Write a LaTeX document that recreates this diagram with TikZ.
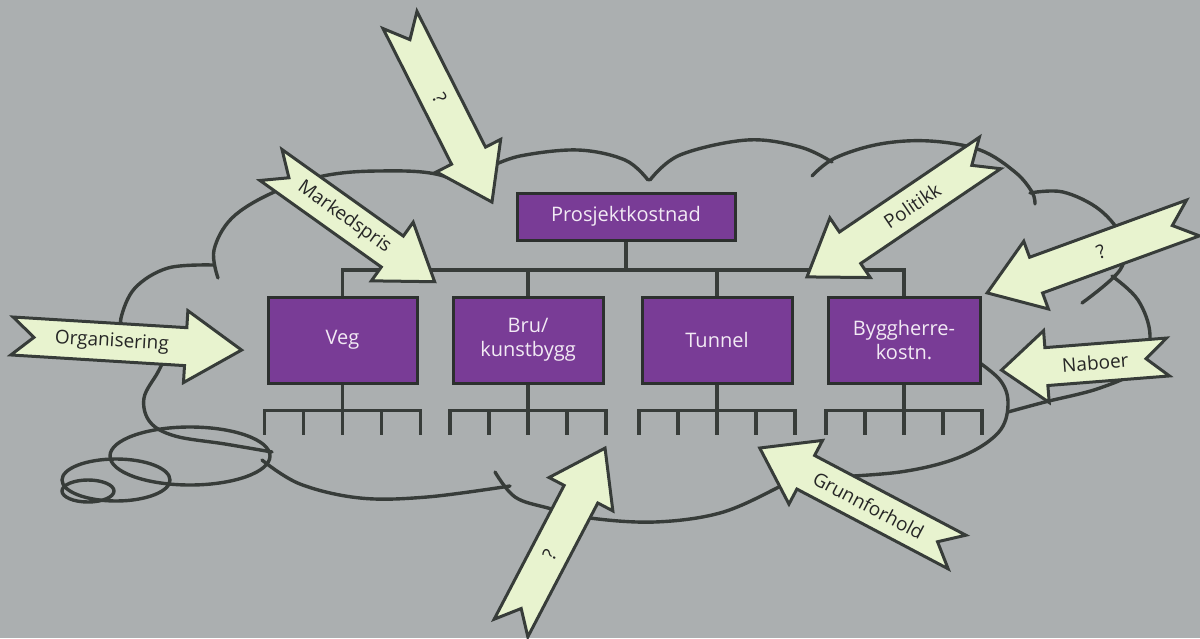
\documentclass[tikz,border=0pt]{standalone}
\usepackage{fontspec}
\setmainfont{Open Sans}
\definecolor{paper}{RGB}{171,175,176}
\definecolor{ink}{RGB}{55,60,57}
\definecolor{plum}{RGB}{121,60,150}
\definecolor{plumtext}{RGB}{242,234,244}
\definecolor{pale}{RGB}{232,243,207}

% block arrow with a notched tail: name, tail point, angle, length, head length, label position, label angle, label
\newcommand\inarrow[8]{%
  \begin{scope}[shift={#2}, rotate=#3]
    \pgfmathsetmacro\hb{#4-#5}
    \draw[blk] (0,19) -- (\hb,19) -- (\hb,36) -- (#4,0) -- (\hb,-36) -- (\hb,-19) -- (0,-19) -- (22,0) -- cycle;
    \node[lbl, rotate=#7] (#1) at (#6,0) {#8};
  \end{scope}}

% five-branch comb under a cost box
\newcommand\subcomb[1]{%
  \draw[tree] (#1.south) -- ++(0,50);
  \draw[tree] (#1.south) ++(-78,50) -- ++(0,-24) -- ++(156,0) -- ++(0,24);
  \foreach \dx in {-39,39} \draw[tree] (#1.south) ++(\dx,26) -- ++(0,24);}

\begin{document}
\begin{tikzpicture}[x=1pt,y=-1pt,
  cloud/.style={draw=ink, line width=3.4pt, line cap=round, line join=round},
  tree/.style={draw=ink, line width=3.4pt, line join=miter},
  box/.style={draw=ink!80!black, line width=3pt, fill=plum, text=plumtext,
    font=\fontsize{20}{24}\selectfont, align=center, inner sep=0pt},
  blk/.style={draw=ink, line width=3pt, fill=pale, line join=miter},
  lbl/.style={text=black!85, font=\fontsize{19}{22}\selectfont, inner sep=0pt}]

\useasboundingbox (0,0) rectangle (1200,638);
\fill[paper] (0,0) rectangle (1200,638);

% cloud outline, lobe by lobe
\draw[cloud] plot[smooth, tension=0.6] coordinates {(213,265) (168,268) (135,288) (121,318) (124,332)};
\draw[cloud] plot[smooth, tension=0.6] coordinates {(168,352) (158,372) (144,398) (150,422) (175,436) (225,444) (272,452)};
\draw[cloud] plot[smooth, tension=0.6] coordinates {(218,278) (214,250) (232,218) (272,193) (323,176) (378,171) (440,175) (492,200)};
\draw[cloud] plot[smooth, tension=0.6] coordinates {(488,168) (520,156) (578,150) (625,160) (648,180)};
\draw[cloud] plot[smooth, tension=0.6] coordinates {(650,180) (680,155) (747,140) (800,147) (832,162)};
\draw[cloud] plot[smooth, tension=0.6] coordinates {(812,176) (835,158) (880,144) (930,141) (980,150) (1015,172) (1032,192) (1035,204)};
\draw[cloud] plot[smooth, tension=0.6] coordinates {(1030,193) (1063,192) (1100,210) (1123,240) (1120,270) (1082,303)};
\draw[cloud] plot[smooth, tension=0.6] coordinates {(1112,276) (1138,300) (1150,335) (1140,368) (1100,388) (1045,402) (1008,412)};
\draw[cloud] plot[smooth, tension=0.6] coordinates {(970,356) (1000,380) (1008,405) (998,433) (960,457) (900,472) (815,478)};
\draw[cloud] plot[smooth, tension=0.6] coordinates {(795,476) (775,489) (720,513) (655,522) (590,518) (548,508) (515,497) (495,472)};
\draw[cloud] plot[smooth, tension=0.6] coordinates {(262,460) (300,484) (360,498) (427,497) (510,486)};

% loops trailing off the cloud
\draw[cloud] (190,456) ellipse [x radius=80, y radius=29];
\draw[cloud] (116,480) ellipse [x radius=54, y radius=21];
\draw[cloud] (88,491) ellipse [x radius=26, y radius=11];

% cost breakdown
\node[box, minimum width=218pt, minimum height=47pt] (top) at (626,216.5) {Prosjektkostnad};
\node[box, minimum width=149pt, minimum height=86pt] (veg) at (342.5,340) {Veg};
\node[box, minimum width=150pt, minimum height=86pt] (bru) at (528,340) {Bru/\\kunstbygg};
\node[box, minimum width=150pt, minimum height=86pt] (tun) at (717,340) {Tunnel};
\node[box, minimum width=152pt, minimum height=86pt] (byg) at (904,340) {Byggherre-\\kostn.};

\coordinate (bus) at (0,270);
\draw[tree] (top.south) -- (top.south |- bus);
\draw[tree] (veg.north) -- (veg.north |- bus) -- (byg.north |- bus) -- (byg.north);
\draw[tree] (bru.north) -- (bru.north |- bus);
\draw[tree] (tun.north) -- (tun.north |- bus);

\subcomb{veg}
\subcomb{bru}
\subcomb{tun}
\subcomb{byg}

% influences pressing in on the cost
\inarrow{qtop}{(400,20)}{-63.2}{204}{52}{88}{-63.2}{?}
\inarrow{mark}{(271,165)}{-35.5}{201}{52}{90}{-35.5}{Markedspris}
\inarrow{pol}{(990,153)}{214.1}{221}{52}{94}{34.1}{Politikk}
\inarrow{qright}{(1193,218)}{200}{219}{52}{98}{20}{?}
\inarrow{nab}{(1168,357)}{184.5}{167}{45}{73}{4.5}{Naboer}
\inarrow{org}{(12,336)}{-3.5}{230}{56}{100}{-3.5}{Organisering}
\inarrow{grunn}{(957,552)}{152.2}{223}{52}{100}{-27.8}{Grunnforhold}
\inarrow{qbot}{(511,628)}{62.4}{203}{52}{83}{62.4}{?}

\end{tikzpicture}
\end{document}
